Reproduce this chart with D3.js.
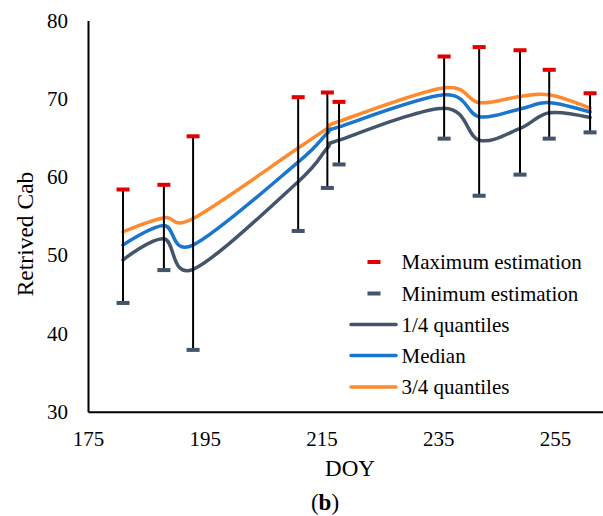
<!DOCTYPE html>
<html><head><meta charset="utf-8">
<script src="https://cdn.jsdelivr.net/npm/d3@7/dist/d3.min.js"></script>
<style>
html,body{margin:0;padding:0;background:#fff;}
svg{display:block;font-family:"Liberation Serif","Times New Roman",serif;}
</style>
</head><body>
<svg id="chart" width="603" height="516"></svg>
<script>
const doy = [181, 188, 193, 211, 216, 218, 236, 242, 249, 254, 261];
const maxEst = [58.4, 59.0, 65.2, 70.2, 70.8, 69.6, 75.4, 76.6, 76.2, 73.7, 70.7];
const minEst = [43.9, 48.1, 37.9, 53.1, 58.6, 61.6, 64.9, 57.6, 60.3, 64.9, 65.7];
const q1 = [49.4, 52.1, 48.2, 59.4, 63.7, 64.7, 68.8, 64.7, 66.2, 68.2, 67.6];
const median = [51.3, 53.8, 51.3, 61.9, 65.6, 66.4, 70.5, 67.7, 68.7, 69.5, 68.3];
const q3 = [53.0, 54.8, 54.7, 63.7, 66.2, 67.1, 71.4, 69.5, 70.3, 70.5, 68.8];
const xTicks = [175, 195, 215, 235, 255];
const yTicks = [30, 40, 50, 60, 70, 80];
const legendLabels = ["Maximum estimation", "Minimum estimation", "1/4 quantiles", "Median", "3/4 quantiles"];

const colors = { max: "#E00000", min: "#44546A", q1: "#44546A", med: "#1A75CC", q3: "#FF8A2E" };

const svg = d3.select("#chart");
const mLeft = 88, mTop = 20.5, mBottom = 411.7;
const pxPerDay = 5.838;

const x = d3.scaleLinear().domain([175, 275]).range([mLeft, mLeft + 100 * pxPerDay]);
const y = d3.scaleLinear().domain([30, 80]).range([mBottom, mTop]);

// axes
const gx = svg.append("g").attr("transform", `translate(0,${mBottom})`)
  .call(d3.axisBottom(x).tickValues(xTicks).tickSize(0).tickPadding(19).tickFormat(d3.format("d")));
gx.select(".domain").attr("stroke", "#000").attr("stroke-width", 2);
gx.selectAll("text").attr("font-size", 21).attr("font-family", "Liberation Serif").attr("fill", "#000");

const gy = svg.append("g").attr("transform", `translate(${mLeft},0)`)
  .call(d3.axisLeft(y).tickValues(yTicks).tickSize(0).tickPadding(20).tickFormat(d3.format("d")));
gy.select(".domain").attr("stroke", "#000").attr("stroke-width", 2);
gy.selectAll("text").attr("font-size", 21).attr("font-family", "Liberation Serif").attr("fill", "#000");

// lines
const line = d3.line().curve(d3.curveCatmullRom.alpha(0))
  .x((d, i) => x(doy[i])).y(d => y(d));
[[q3, colors.q3], [median, colors.med], [q1, colors.q1]].forEach(([arr, c]) => {
  svg.append("path").attr("d", line(arr)).attr("fill", "none")
    .attr("stroke", c).attr("stroke-width", 3.5).attr("stroke-linecap", "round");
});

// error bars
const gb = svg.append("g");
doy.forEach((d, i) => {
  gb.append("line").attr("x1", x(d)).attr("x2", x(d))
    .attr("y1", y(maxEst[i])).attr("y2", y(minEst[i]))
    .attr("stroke", "#000").attr("stroke-width", 2);
});
const capW = 13, capH = 4;
gb.selectAll("rect.max").data(doy).join("rect").attr("class", "max")
  .attr("x", d => x(d) - capW / 2).attr("y", (d, i) => y(maxEst[i]) - capH / 2)
  .attr("width", capW).attr("height", capH).attr("fill", colors.max);
gb.selectAll("rect.min").data(doy).join("rect").attr("class", "min")
  .attr("x", d => x(d) - capW / 2).attr("y", (d, i) => y(minEst[i]) - capH / 2)
  .attr("width", capW).attr("height", capH).attr("fill", colors.min);

// legend
const lg = svg.append("g");
const rowY = [262, 293.5, 324.5, 355.5, 387];
const textX = 401.5;
legendLabels.forEach((lab, i) => {
  if (i < 2) {
    lg.append("rect").attr("x", 367.5).attr("y", rowY[i] - 2).attr("width", 13).attr("height", 4)
      .attr("fill", i === 0 ? colors.max : colors.min);
  } else {
    const c = [colors.q1, colors.med, colors.q3][i - 2];
    lg.append("line").attr("x1", 351).attr("x2", 396).attr("y1", rowY[i]).attr("y2", rowY[i])
      .attr("stroke", c).attr("stroke-width", 3.5).attr("stroke-linecap", "round");
  }
  lg.append("text").attr("x", textX).attr("y", rowY[i] + 7).attr("font-size", 21)
    .attr("fill", "#000").text(lab);
});

// axis titles
svg.append("text").attr("transform", "translate(33,234) rotate(-90)")
  .attr("text-anchor", "middle").attr("font-size", 23.5).attr("fill", "#000").text("Retrived Cab");
svg.append("text").attr("x", 350).attr("y", 476).attr("text-anchor", "middle")
  .attr("font-size", 23).attr("fill", "#000").text("DOY");
const t = svg.append("text").attr("x", 325).attr("y", 510).attr("text-anchor", "middle")
  .attr("font-size", 23).attr("fill", "#000");
t.append("tspan").text("(");
t.append("tspan").attr("font-weight", "bold").text("b");
t.append("tspan").text(")");
</script>
</body></html>
